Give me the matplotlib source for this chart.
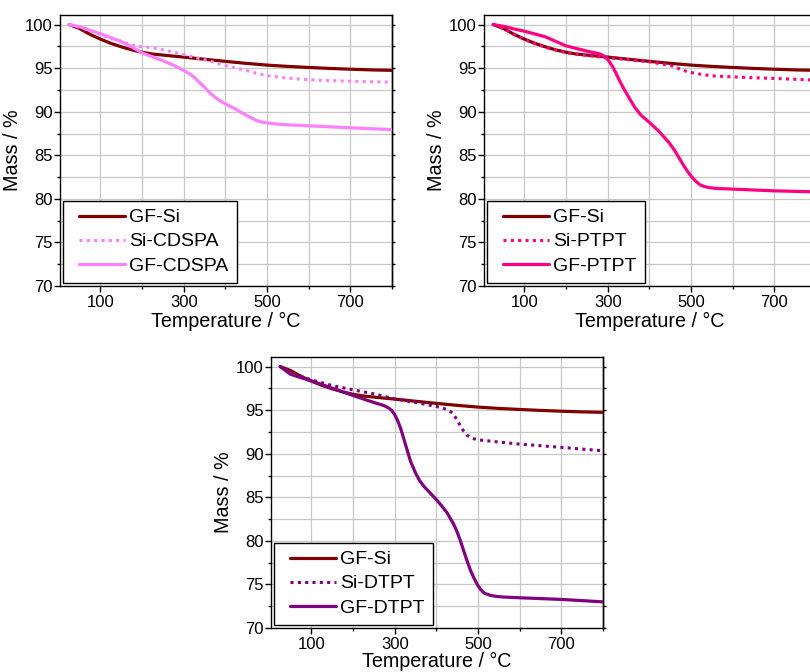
import matplotlib
matplotlib.use("Agg")
import matplotlib.pyplot as plt
from matplotlib.ticker import MultipleLocator, FixedLocator
from matplotlib.legend_handler import HandlerLine2D
from matplotlib.lines import Line2D

plt.rcParams['font.family'] = ['Liberation Sans', 'DejaVu Sans']

# Bare glass-fibre reference (identical run shown in every panel)
t_gfsi = [25, 50, 75, 100, 125, 150, 175, 200, 225, 250, 275, 300, 350, 400,
          450, 500, 550, 600, 650, 700, 750, 800]
m_gfsi = [100.0, 99.55, 98.88, 98.33, 97.85, 97.45, 97.1, 96.82, 96.62, 96.5,
          96.38, 96.27, 96.02, 95.78, 95.55, 95.35, 95.2, 95.08, 94.97, 94.88,
          94.8, 94.75]

# CDSPA series
t_si_cdspa = [25, 50, 75, 100, 125, 150, 175, 200, 225, 250, 275, 300, 325, 350,
              375, 400, 425, 450, 475, 500, 550, 600, 650, 700, 750, 800]
m_si_cdspa = [100.0, 99.7, 99.3, 98.85, 98.4, 98.1, 97.65, 97.45, 97.35, 97.1,
              96.85, 96.55, 96.25, 95.95, 95.65, 95.3, 95.0, 94.75, 94.4, 94.15,
              93.85, 93.67, 93.58, 93.5, 93.44, 93.39]
t_gf_cdspa = [25, 50, 75, 100, 125, 150, 175, 200, 225, 250, 275, 300, 312, 325,
              337, 350, 362, 375, 387, 400, 412, 425, 437, 450, 462, 475, 487,
              500, 525, 550, 600, 650, 700, 750, 800]
m_gf_cdspa = [100.0, 99.75, 99.35, 98.95, 98.5, 98.05, 97.45, 96.75, 96.3, 95.85,
              95.35, 94.75, 94.4, 93.97, 93.4, 92.8, 92.2, 91.67, 91.25, 90.9,
              90.6, 90.3, 89.95, 89.6, 89.3, 89.0, 88.82, 88.72, 88.58, 88.49,
              88.38, 88.27, 88.15, 88.05, 87.95]

# PTPT series
t_si_ptpt = [25, 50, 75, 100, 125, 150, 175, 200, 250, 300, 350, 400, 450, 465,
             480, 490, 500, 525, 550, 600, 650, 700, 750, 800]
m_si_ptpt = [100.0, 99.55, 98.88, 98.3, 97.82, 97.42, 97.07, 96.78, 96.45, 96.2,
             95.97, 95.72, 95.32, 95.05, 94.77, 94.62, 94.5, 94.28, 94.12, 94.0,
             93.9, 93.82, 93.72, 93.63]
t_gf_ptpt = [25, 50, 75, 100, 150, 200, 250, 265, 276, 284, 292, 300, 306, 312,
             318, 324, 336, 350, 364, 380, 400, 424, 448, 460, 472, 482, 492,
             502, 512, 522, 532, 545, 560, 600, 700, 800]
m_gf_ptpt = [100.0, 99.8, 99.5, 99.24, 98.6, 97.56, 96.95, 96.8, 96.7, 96.58,
             96.35, 96.0, 95.6, 95.15, 94.6, 94.0, 92.86, 91.7, 90.57, 89.6,
             88.78, 87.7, 86.4, 85.6, 84.65, 83.85, 83.13, 82.5, 82.0, 81.6,
             81.41, 81.28, 81.2, 81.12, 80.92, 80.8]

# DTPT series
t_si_dtpt = [25, 50, 75, 100, 150, 200, 250, 300, 350, 400, 415, 426, 435, 442,
             448, 454, 460, 466, 474, 482, 490, 500, 550, 600, 650, 700, 750, 800]
m_si_dtpt = [100.0, 99.4, 98.9, 98.47, 97.82, 97.33, 96.87, 96.3, 95.88, 95.42,
             95.25, 95.04, 94.8, 94.47, 94.0, 93.5, 93.0, 92.56, 92.1, 91.87,
             91.72, 91.6, 91.34, 91.1, 90.92, 90.73, 90.53, 90.34]
t_gf_dtpt = [25, 50, 74, 100, 150, 200, 250, 274, 286, 293, 300, 307, 314, 320,
             326, 338, 350, 360, 370, 385, 400, 413, 426, 442, 450, 458, 466,
             474, 482, 490, 498, 506, 515, 530, 545, 562, 600, 700, 800]
m_gf_dtpt = [100.0, 99.12, 98.74, 98.36, 97.52, 96.68, 95.88, 95.53, 95.23,
             94.95, 94.47, 93.8, 92.94, 92.0, 91.03, 89.12, 87.79, 86.9, 86.26,
             85.5, 84.73, 84.0, 83.2, 81.87, 81.0, 79.96, 78.8, 77.67, 76.6,
             75.76, 75.0, 74.43, 74.0, 73.74, 73.62, 73.55, 73.47, 73.28, 73.0]

x_major = [100, 300, 500, 700]
x_minor = [0, 200, 400, 600, 800]
y_major = [70, 75, 80, 85, 90, 95, 100]

COL_SI = '#800000'
panels = [
    # (left px, top px, Si label, Si data, GF label, GF data, colour, xlabel pad)
    (60, 15, 'Si-CDSPA', (t_si_cdspa, m_si_cdspa), 'GF-CDSPA', (t_gf_cdspa, m_gf_cdspa), '#ff80ff', 2),
    (484, 15, 'Si-PTPT', (t_si_ptpt, m_si_ptpt), 'GF-PTPT', (t_gf_ptpt, m_gf_ptpt), '#ff0080', 2),
    (271, 357, 'Si-DTPT', (t_si_dtpt, m_si_dtpt), 'GF-DTPT', (t_gf_dtpt, m_gf_dtpt), '#800080', 0),
]

W, H = 810, 672
AX_W, AX_H = 332, 271

fig = plt.figure(figsize=(W / 100, H / 100), dpi=100)

line_kw = dict(solid_joinstyle='round', solid_capstyle='round')

for left, top, si_lab, si_dat, gf_lab, gf_dat, col, xpad in panels:
    ax = fig.add_axes([left / W, 1 - (top + AX_H) / H, AX_W / W, AX_H / H])
    ax.plot(t_gfsi, m_gfsi, color=COL_SI, lw=2.3, label='GF-Si', zorder=3,
            **line_kw)
    ax.plot(si_dat[0], si_dat[1], color=col, lw=2.2, linestyle=(0, (1, 1.4)),
            label=si_lab, zorder=4)
    ax.plot(gf_dat[0], gf_dat[1], color=col, lw=2.3, label=gf_lab, zorder=5,
            **line_kw)

    ax.set_xlim(3, 800)
    ax.set_ylim(70, 101.1)
    ax.xaxis.set_major_locator(FixedLocator(x_major))
    ax.xaxis.set_minor_locator(FixedLocator(x_minor))
    ax.yaxis.set_major_locator(FixedLocator(y_major))
    ax.yaxis.set_minor_locator(MultipleLocator(2.5))
    ax.grid(True, which='both', color='#c8c8c8', lw=0.9, zorder=0)
    ax.set_axisbelow(True)

    ax.tick_params(which='major', direction='out', length=4, width=1.0,
                   labelsize=12, color='black')
    ax.tick_params(which='minor', direction='out', length=2.5, width=1.0)
    ax.tick_params(axis='x', which='major', pad=2.2)
    ax.tick_params(axis='y', which='major', pad=1.3)
    for sp in ax.spines.values():
        sp.set_linewidth(1.0)
        sp.set_color('black')

    sec = ax.secondary_yaxis('right')
    sec.yaxis.set_major_locator(MultipleLocator(2.5))
    sec.tick_params(direction='out', length=2.2, width=1.0, labelright=False)
    sec.spines['right'].set_linewidth(1.0)

    ax.set_xlabel('Temperature / °C', fontsize=14.2, labelpad=xpad)
    ax.set_ylabel('Mass / %', fontsize=14.2, labelpad=2)

    leg = ax.legend(loc='lower left', bbox_to_anchor=(0, 0), borderaxespad=0.17,
                    fontsize=14, frameon=True, fancybox=False, framealpha=1,
                    edgecolor='black', handlelength=2.75, handletextpad=0.22,
                    labelspacing=0.33, borderpad=0.42,
                    handler_map={Line2D: HandlerLine2D(xpad=0.4)})
    leg.get_frame().set_linewidth(1.0)

fig.savefig('out.png', dpi=100)
